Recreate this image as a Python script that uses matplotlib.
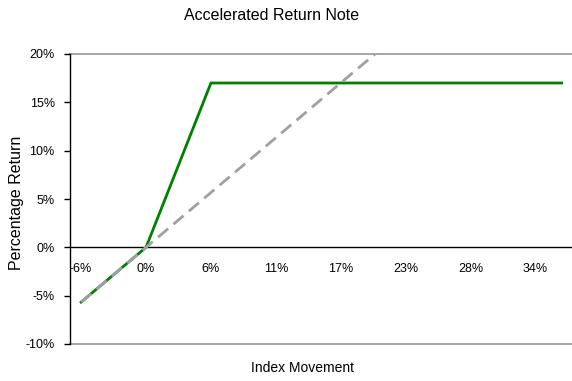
import matplotlib.pyplot as plt

plt.rcParams['font.family'] = ['Liberation Sans', 'DejaVu Sans']
plt.rcParams['lines.scale_dashes'] = False

# Index movement (%) and the resulting returns (%)
index_movement = [-5.67, 0.0, 5.67, 36.3]
note_return = [-5.67, 0.0, 17.0, 17.0]
index_return = [-5.67, 0.0, 5.67, 36.3]

x_ticks = [-5.67, 0.0, 5.67, 11.33, 17.0, 22.67, 28.33, 34.0]
x_tick_labels = ['-6%', '0%', '6%', '11%', '17%', '23%', '28%', '34%']
y_ticks = [-10, -5, 0, 5, 10, 15, 20]
y_tick_labels = ['-10%', '-5%', '0%', '5%', '10%', '15%', '20%']

fig = plt.figure(figsize=(5.72, 3.81), dpi=100)
ax = fig.add_axes([70 / 572, 37 / 381, 502 / 572, 290 / 381])

ax.plot(index_movement, note_return, color='#008000', linewidth=2.0,
        solid_joinstyle='miter', zorder=3)
ax.plot(index_movement, index_return, color='#a0a0a0', linewidth=2.0,
        dashes=(9.5, 5), zorder=4)

ax.set_xlim(-6.64, 37.2)
ax.set_ylim(-10, 20)

# frame lines at the top and bottom of the plot area
ax.axhline(20, color='#a6a6a6', linewidth=1.4, clip_on=False, zorder=1)
ax.axhline(-10, color='#a6a6a6', linewidth=1.4, clip_on=False, zorder=1)

ax.spines['top'].set_visible(False)
ax.spines['right'].set_visible(False)
ax.spines['bottom'].set_position(('data', 0))
ax.spines['bottom'].set_color('black')
ax.spines['bottom'].set_linewidth(1.0)
ax.spines['left'].set_color('black')
ax.spines['left'].set_linewidth(1.0)

ax.set_xticks(x_ticks)
ax.set_xticklabels(x_tick_labels, fontsize=9)
ax.tick_params(axis='x', length=0, pad=11)
ax.set_yticks(y_ticks)
ax.set_yticklabels(y_tick_labels, fontsize=9)
ax.tick_params(axis='y', length=4, width=1, pad=7, direction='out')

fig.text(272 / 572, 1 - 16 / 381, 'Accelerated Return Note', ha='center',
         va='center', fontsize=11.5)
fig.text(302 / 572, 1 - 368 / 381, 'Index Movement', ha='center',
         va='center', fontsize=10)
fig.text(17 / 572, 1 - 203 / 381, 'Percentage Return', ha='center',
         va='center', rotation=90, fontsize=11.5)

fig.savefig('out.png', dpi=100)
